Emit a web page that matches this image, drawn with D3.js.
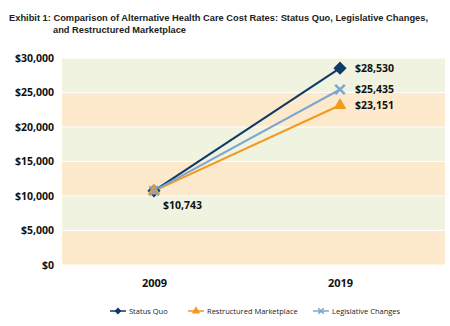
<!DOCTYPE html>
<html>
<head>
<meta charset="utf-8">
<script src="https://cdn.jsdelivr.net/npm/d3@7"></script>
<style>
  body { margin: 0; background: #fff; }
  svg { display: block; }
</style>
</head>
<body>
<svg id="chart" width="450" height="326"></svg>
<script>
const years = ["2009", "2019"];
const statusQuo = [10743, 28530];
const restructured = [10743, 23151];
const legislative = [10743, 25435];
const yTicks = [0, 5000, 10000, 15000, 20000, 25000, 30000];
const titleLines = [
  "Exhibit 1: Comparison of Alternative Health Care Cost Rates: Status Quo, Legislative Changes,",
  "and Restructured Marketplace"
];

const series = [
  { name: "Status Quo", values: statusQuo, color: "#0e3a67", symbol: d3.symbolDiamond2 },
  { name: "Restructured Marketplace", values: restructured, color: "#f29a1f", symbol: d3.symbolTriangle },
  { name: "Legislative Changes", values: legislative, color: "#7ea6cf", symbol: d3.symbolX }
];

const svg = d3.select("#chart");
const plot = { left: 62, right: 445, top: 58, bottom: 265 };

// title
svg.append("g").selectAll("text")
  .data(titleLines)
  .enter()
  .append("text")
  .attr("x", (d, i) => i == 0 ? 9 : 53)
  .attr("y", (d, i) => 21 + i * 12)
  .attr("font-family", "Liberation Sans, Arial, sans-serif")
  .attr("font-weight", "bold")
  .attr("font-size", 9.5)
  .attr("fill", "#222")
  .attr("textLength", (d, i) => i == 0 ? 419 : 133)
  .attr("lengthAdjust", "spacingAndGlyphs")
  .text(d => d);

const y = d3.scaleLinear()
  .domain([0, 30000])
  .range([plot.bottom, plot.top]);

const x = d3.scalePoint()
  .domain(years)
  .range([154, 340]);

// background bands
const bands = d3.pairs(yTicks);
svg.append("g")
  .selectAll("rect")
  .data(bands)
  .enter()
  .append("rect")
  .attr("x", plot.left)
  .attr("width", plot.right - plot.left)
  .attr("y", d => y(d[1]) + 0.5)
  .attr("height", d => y(d[0]) - y(d[1]) - 1)
  .attr("fill", (d, i) => i % 2 == 0 ? "#fde9cc" : "#eff3df");

// y axis labels
const yAxis = svg.append("g")
  .attr("transform", `translate(${plot.left - 8},0)`)
  .call(d3.axisLeft(y).tickValues(yTicks).tickSize(0).tickPadding(0)
    .tickFormat(d => "$" + d3.format(",")(d)));
yAxis.select(".domain").remove();
yAxis.selectAll("text")
  .attr("font-family", "Open Sans, sans-serif")
  .attr("font-weight", "bold")
  .attr("font-size", 10.5)
  .attr("fill", "#111");

// x axis labels
const xAxis = svg.append("g")
  .attr("transform", `translate(0,${plot.bottom + 14})`)
  .call(d3.axisBottom(x).tickSize(0).tickPadding(0));
xAxis.select(".domain").remove();
xAxis.selectAll("text")
  .attr("font-family", "Open Sans, sans-serif")
  .attr("font-weight", "bold")
  .attr("font-size", 11)
  .attr("fill", "#111");

// lines
const line = d3.line()
  .x((d, i) => x(years[i]))
  .y(d => y(d));

svg.append("g")
  .selectAll("path")
  .data(series)
  .enter()
  .append("path")
  .attr("d", d => line(d.values))
  .attr("fill", "none")
  .attr("stroke", d => d.color)
  .attr("stroke-width", 2);

// markers
const sizes = { "Status Quo": 110, "Restructured Marketplace": 70, "Legislative Changes": 60 };
series.forEach(s => {
  svg.append("g")
    .selectAll("path")
    .data(s.values)
    .enter()
    .append("path")
    .attr("transform", (d, i) => `translate(${x(years[i])},${y(d)})`)
    .attr("d", d3.symbol().type(s.symbol).size(sizes[s.name]))
    .attr("fill", s.symbol == d3.symbolX ? "none" : s.color)
    .attr("stroke", s.symbol == d3.symbolX ? s.color : "none")
    .attr("stroke-width", 2.5)
    .attr("opacity", (d, i) => i == 0 && s.symbol == d3.symbolX ? 0.8 : 1);
});

// value labels
const labelFont = g => g
  .attr("font-family", "Open Sans, sans-serif")
  .attr("font-weight", "bold")
  .attr("font-size", 10.5)
  .attr("fill", "#111");

svg.append("g")
  .selectAll("text")
  .data(series)
  .enter()
  .append("text")
  .attr("x", x("2019") + 15)
  .attr("y", d => y(d.values[1]) + 4)
  .call(labelFont)
  .text(d => "$" + d3.format(",")(d.values[1]));

svg.append("text")
  .attr("x", x("2009") + 9)
  .attr("y", y(statusQuo[0]) + 18)
  .call(labelFont)
  .text("$" + d3.format(",")(statusQuo[0]));

// legend
const legendX = [110, 188, 313];
const legend = svg.append("g")
  .selectAll("g")
  .data(series)
  .enter()
  .append("g")
  .attr("transform", (d, i) => `translate(${legendX[i]},311)`);

legend.append("line")
  .attr("x1", 0).attr("x2", 16)
  .attr("stroke", d => d.color)
  .attr("stroke-width", 1.5);

legend.append("path")
  .attr("transform", "translate(8,0)")
  .attr("d", d => d3.symbol().type(d.symbol).size(d.symbol == d3.symbolX ? 20 : 30)())
  .attr("fill", d => d.symbol == d3.symbolX ? "none" : d.color)
  .attr("stroke", d => d.symbol == d3.symbolX ? d.color : "none")
  .attr("stroke-width", 1.5);

legend.append("text")
  .attr("x", 19)
  .attr("y", 3)
  .attr("font-family", "Open Sans, sans-serif")
  .attr("font-size", 7.5)
  .attr("fill", "#222")
  .text(d => d.name);
</script>
</body>
</html>
